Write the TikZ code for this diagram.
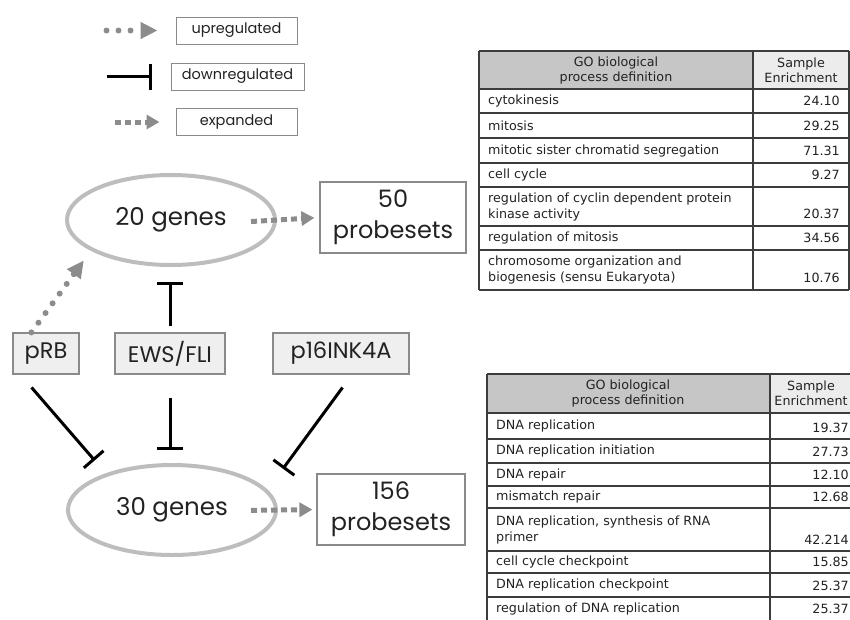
\documentclass[tikz,border=0pt]{standalone}
\usepackage{fontspec}
\setmainfont{Poppins}
\newfontfamily\tabfont{DejaVu Sans}
\usetikzlibrary{arrows.meta,shapes.geometric,calc}

\definecolor{arrowgray}{HTML}{8C8C8C}
\definecolor{ringgray}{HTML}{BDBDBD}
\definecolor{boxgray}{HTML}{8A8A8A}
\definecolor{factorfill}{HTML}{EFEFEF}
\definecolor{headdark}{HTML}{C6C6C6}
\definecolor{headlight}{HTML}{ECECEC}
\definecolor{tabgray}{HTML}{3C3C3C}
\definecolor{inkgray}{HTML}{222222}

\tikzset{
	legendbox/.style={draw=boxgray, line width=1pt, inner sep=0pt, minimum height=27pt,
		text=inkgray, font=\fontsize{14.5}{16}\selectfont},
	genes/.style={ellipse, draw=ringgray, line width=4pt, inner sep=0pt,
		minimum width=208pt, minimum height=90pt, text=inkgray, font=\fontsize{24.5}{30}\selectfont},
	probeset/.style={draw=boxgray, line width=1.2pt, inner sep=0pt, minimum height=71pt,
		align=center, text=inkgray, font=\fontsize{24}{31}\selectfont},
	factor/.style={draw=boxgray, fill=factorfill, line width=1.2pt, inner sep=0pt,
		minimum height=41pt, text=inkgray, font=\fontsize{22.5}{26}\selectfont},
	upreg/.style={draw=arrowgray, line width=6pt, line cap=round, dash pattern=on 0pt off 12pt,
		-{Triangle[length=17pt, width=16pt, fill=arrowgray]}},
	expand/.style={draw=arrowgray, line width=5pt, dash pattern=on 6pt off 4pt,
		-{Triangle[length=13pt, width=14pt, fill=arrowgray]}},
	inhibit/.style={draw=black, line width=3pt, -{Bar[width=26pt, line width=3pt]}},
	tabline/.style={draw=tabgray, line width=1.3pt},
	tabtext/.style={inner sep=0pt, align=left, text=inkgray,
		font=\tabfont\fontsize{12.7}{16}\selectfont},
	tabhead/.style={inner sep=0pt, align=center, text=inkgray,
		font=\tabfont\fontsize{12.7}{15}\selectfont}
}

\begin{document}
\begin{tikzpicture}[x=1pt, y=-1pt]
	\useasboundingbox (0,0) rectangle (850,619);

	% Legend
	\node[legendbox, minimum width=121pt] (lup)   at (236.5,30.5) {upregulated};
	\node[legendbox, minimum width=133pt] (ldown) at (237.5,76.5) {downregulated};
	\node[legendbox, minimum width=121pt] (lexp)  at (236.5,122)  {expanded};
	\draw[upreg]   ($(lup.west)+(-69,0)$)   -- ($(lup.west)+(-18,0)$);
	\draw[inhibit] ($(ldown.west)+(-64,0)$) -- ($(ldown.west)+(-19,0)$);
	\draw[expand]  ($(lexp.west)+(-61,0)$)  -- ($(lexp.west)+(-16,0)$);

	% Gene groups and probesets
	\node[genes] (g20) at (171,220) {20 genes};
	\node[genes] (g30) at (172,510) {30 genes};
	\node[probeset, minimum width=146pt] (p50)  at (393,217.5) {50\\probesets};
	\node[probeset, minimum width=148pt] (p156) at (391,509.5) {156\\probesets};

	% Regulators
	\node[factor, minimum width=66pt]  (prb) at (46,353.5)  {pRB};
	\node[factor, minimum width=110pt] (ews) at (170,353.5) {EWS/FLI};
	\node[factor, minimum width=136pt] (p16) at (341,353.5) {p16INK4A};

	% Expansion into probesets
	\draw[expand, shorten <=-26pt, shorten >=5pt] (g20.east) -- (p50.west);
	\draw[expand, shorten <=-27pt, shorten >=4pt] (g30.east) -- (p156.west);

	% pRB up, the rest down
	\draw[upreg, shorten >=12pt] ($(prb.north west)+(19,0)$) -- (g20.201);
	\draw[inhibit, shorten <=6pt, shorten >=15pt] (ews.north) -- (ews.north |- g20.south);
	\draw[inhibit, shorten <=17pt, shorten >=17pt] ($(prb.south west)+(8,0)$) -- (g30.151);
	\draw[inhibit, shorten <=23pt, shorten >=13pt] (ews.south) -- (ews.south |- g30.north);
	\draw[inhibit, shorten <=16pt, shorten >=26pt] ($(p16.south)+(11,0)$) -- (g30.12);

	% Top table
	\fill[headdark]  (479,51) rectangle (753,89);
	\fill[headlight] (753,51) rectangle (849,89);
	\foreach \y in {51,89,113,138,163,187,226,250,290}
		\draw[tabline] (479,\y) -- (849,\y);
	\foreach \x in {479,753,849}
		\draw[tabline] (\x,51) -- (\x,290);
	\node[tabhead] (goA) at (616,70) {GO biological\\process definition};
	\node[tabhead] (seA) at (801,70) {Sample\\Enrichment};
	\foreach \yt/\yb/\term/\val [count=\i] in {
		89/113/cytokinesis/24.10,
		113/138/mitosis/29.25,
		138/163/mitotic sister chromatid segregation/71.31,
		163/187/cell cycle/9.27,
		187/226/{regulation of cyclin dependent protein\\kinase activity}/20.37,
		226/250/regulation of mitosis/34.56,
		250/290/{chromosome organization and\\biogenesis (sensu Eukaryota)}/10.76}
	{
		\node[tabtext, anchor=west] (termA\i) at (488,{(\yt+\yb)/2}) {\term};
		\node[tabtext, anchor=east] (valA\i) at (840,{\yb-12}) {\val};
	}

	% Bottom table
	\fill[headdark]  (487,374) rectangle (770,413);
	\fill[headlight] (770,374) rectangle (858,413);
	\foreach \y in {374,413,439,463,486,508,551,573,597}
		\draw[tabline] (487,\y) -- (858,\y);
	\foreach \x in {487,770,858}
		\draw[tabline] (\x,374) -- (\x,625);
	\node[tabhead] (goB) at (628,393.5) {GO biological\\process definition};
	\node[tabhead] (seB) at (811,393.5) {Sample\\Enrichment};
	\foreach \yt/\yb/\term/\val [count=\i] in {
		413/439/DNA replication/19.37,
		439/463/DNA replication initiation/27.73,
		463/486/DNA repair/12.10,
		486/508/mismatch repair/12.68,
		508/551/{DNA replication, synthesis of RNA\\primer}/42.214,
		551/573/cell cycle checkpoint/15.85,
		573/597/DNA replication checkpoint/25.37,
		597/620/regulation of DNA replication/25.37}
	{
		\node[tabtext, anchor=west] (termB\i) at (496,{(\yt+\yb)/2}) {\term};
		\node[tabtext, anchor=east] (valB\i) at (849,{\yb-11.5}) {\val};
	}
\end{tikzpicture}
\end{document}
